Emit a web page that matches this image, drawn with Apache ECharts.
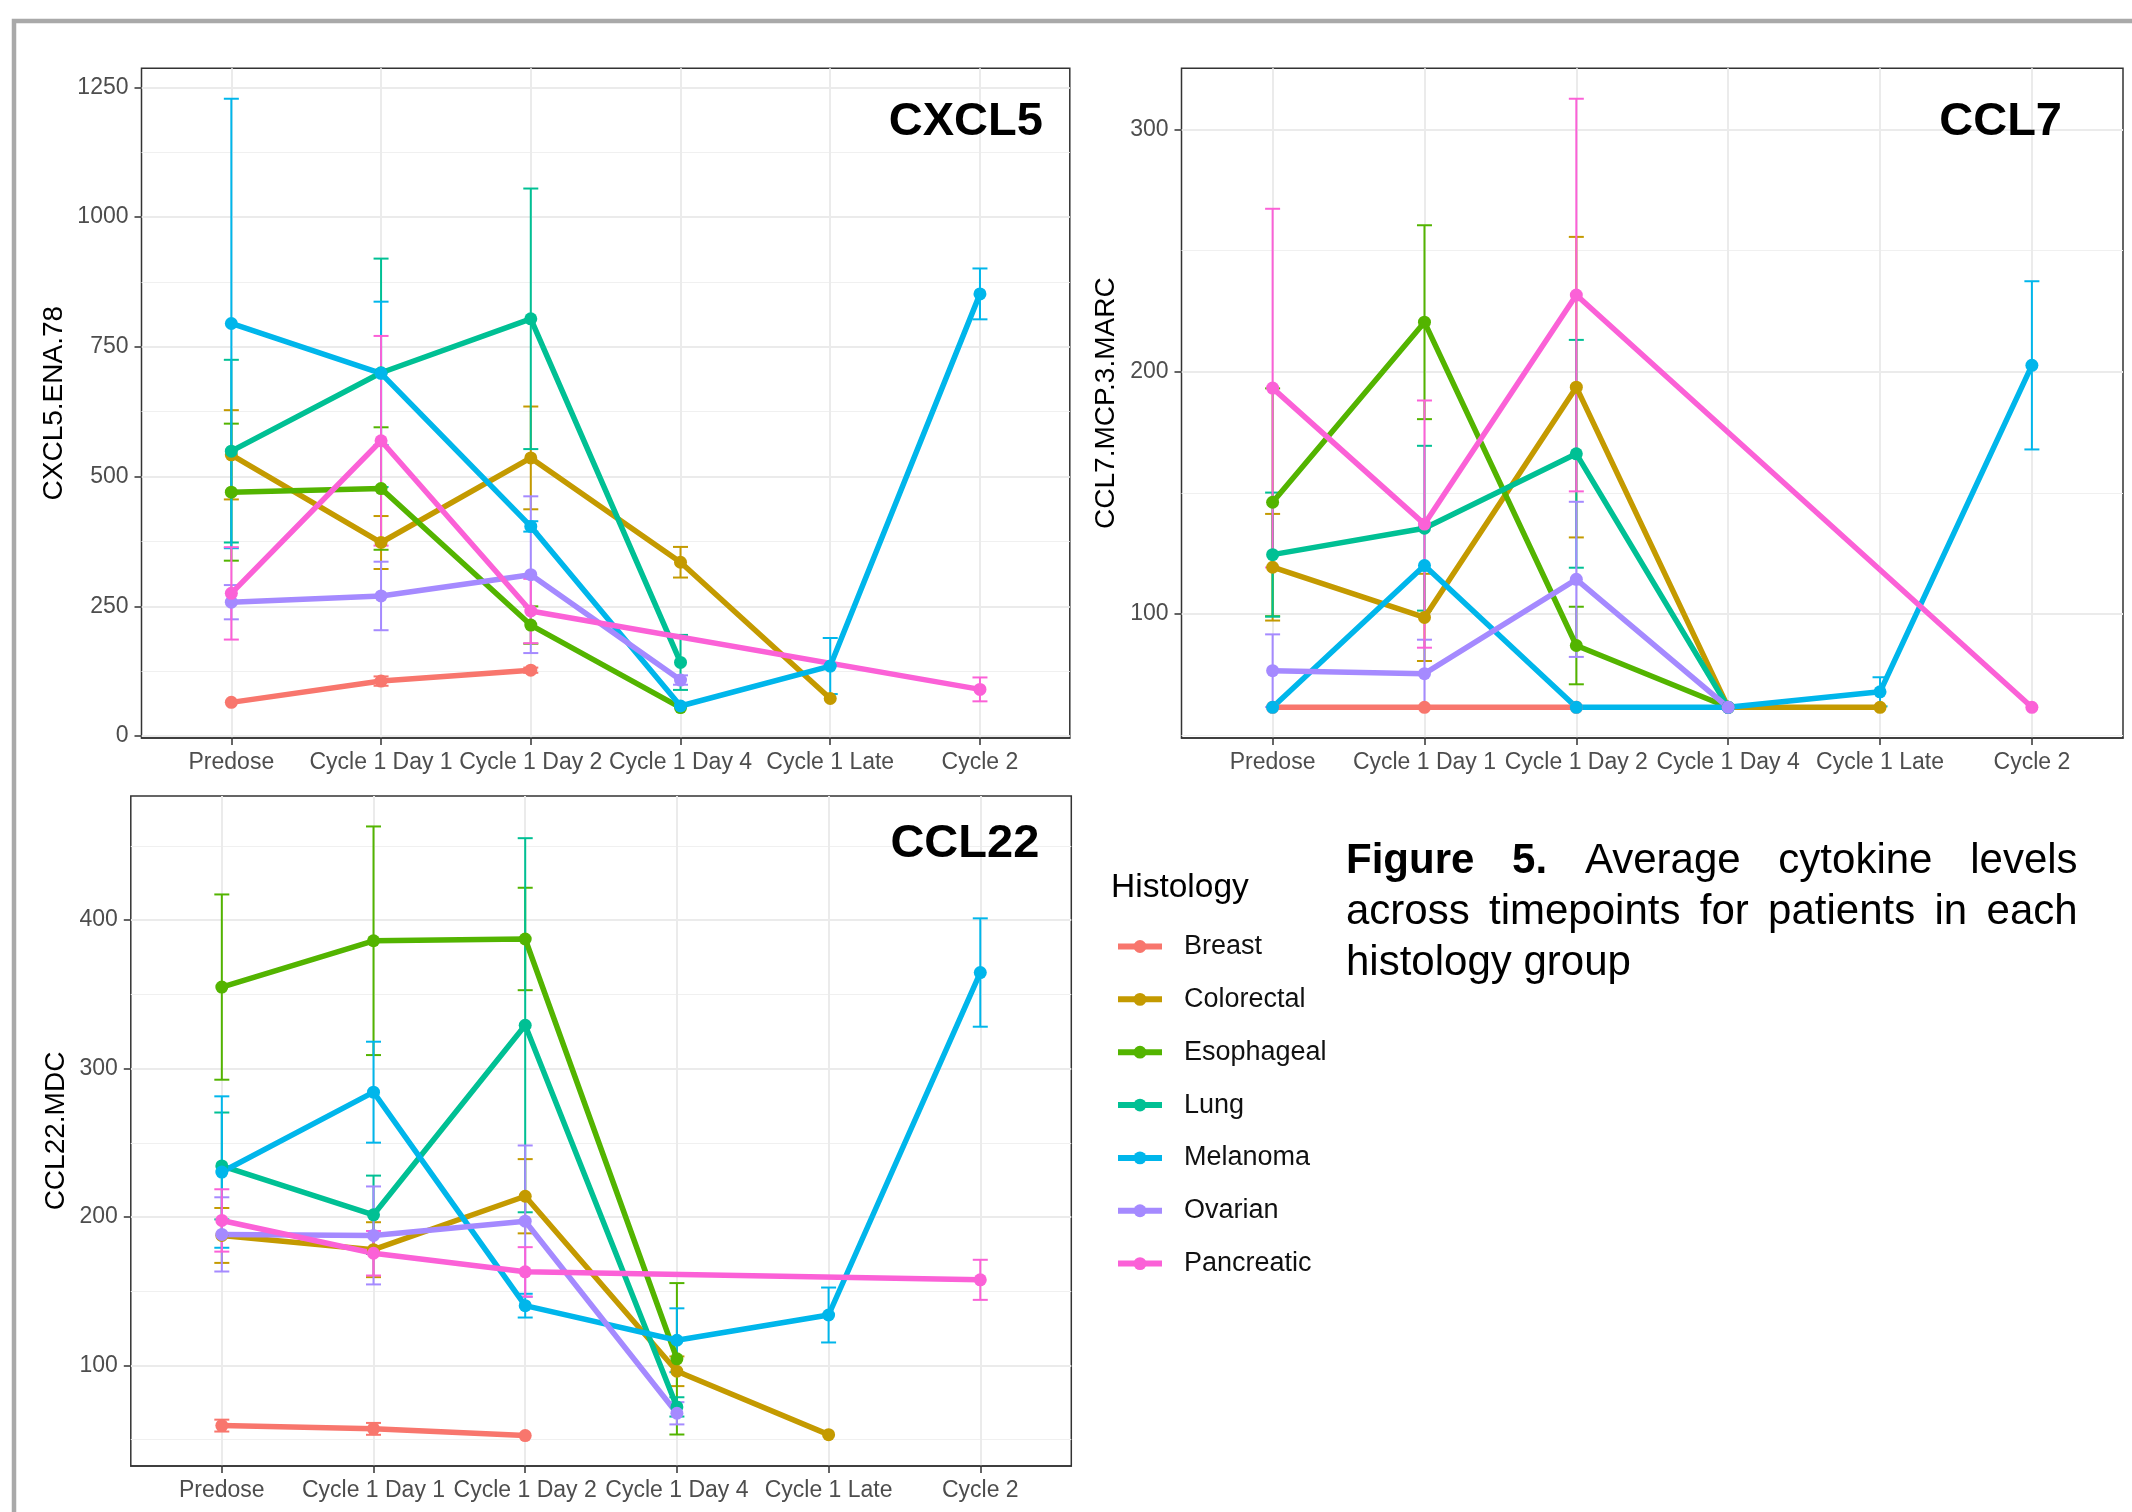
<!DOCTYPE html>
<html>
<head>
<meta charset="utf-8">
<script src="https://cdn.jsdelivr.net/npm/echarts@6.0.0/dist/echarts.min.js"></script>
<style>
html,body{margin:0;padding:0;background:#fff;}
#chart{width:2132px;height:1512px;}
</style>
</head>
<body>
<div id="chart"></div>
<script>
// ---------------- DATA ----------------
const categories = ['Predose', 'Cycle 1 Day 1', 'Cycle 1 Day 2', 'Cycle 1 Day 4', 'Cycle 1 Late', 'Cycle 2'];
const histology = ['Breast', 'Colorectal', 'Esophageal', 'Lung', 'Melanoma', 'Ovarian', 'Pancreatic'];
const colors = ['#F8766D', '#C49A00', '#53B400', '#00C094', '#00B6EB', '#A58AFF', '#FB61D7'];

// CXCL5 (rows follow histology order; columns follow categories)
const cxcl5Mean = [
  [65, 106, 127, null, null, null],
  [542, 373, 536, 335, 72.5, null],
  [470, 477, 214, 55, null, null],
  [549, 700, 804, 142, null, null],
  [795, 699, 404, 58, 135, 852],
  [258, 270, 311, 108, null, null],
  [275, 569, 241, null, null, 90]
];
const cxcl5Err = [
  [0, 9, 5, null, null, null],
  [86, 51, 99, 29.5, 0, null],
  [132, 118, 36, 0, null, null],
  [176, 220, 251, 53, null, null],
  [433, 138, 10, 0, 54, 49],
  [33, 66, 151, 9, null, null],
  [89, 202, 62, null, null, 23]
];
const cxcl5Ticks = [0, 250, 500, 750, 1000, 1250];
const cxcl5Minor = [125, 375, 625, 875, 1125];

// CCL7
const ccl7Mean = [
  [61.5, 61.5, 61.5, null, null, null],
  [119.3, 98.6, 193.6, 61.5, 61.5, null],
  [146.1, 220.4, 87, 61.5, null, null],
  [124.5, 135.4, 166.1, 61.5, null, null],
  [61.5, 120, 61.5, 61.5, 67.9, 202.6],
  [76.6, 75.4, 114.3, 61.5, null, null],
  [193.2, 137.1, 231.6, null, null, 61.5]
];
const ccl7Err = [
  [0, 0, 0, null, null, null],
  [22, 18, 62, 0, 0, null],
  [47, 40, 16, 0, null, null],
  [25.6, 34, 47, 0, null, null],
  [0, 0, 0, 0, 6, 34.7],
  [15, 14, 32, 0, null, null],
  [74, 51, 81, null, null, 0]
];
const ccl7Ticks = [100, 200, 300];
const ccl7Minor = [50, 150, 250];

// CCL22
const ccl22Mean = [
  [59.5, 57.3, 52.8, null, null, null],
  [187.6, 178, 214, 96.1, 53.4, null],
  [354.9, 386.1, 387.3, 104.5, null, null],
  [234.4, 201.5, 329.2, 72.1, null, null],
  [230.3, 284.1, 140.3, 117, 134, 364.7],
  [188.3, 187.6, 197.2, 67.8, null, null],
  [197.7, 175.6, 163.1, null, null, 157.7]
];
const ccl22Err = [
  [4, 4, 0, null, null, null],
  [18.5, 18.5, 25, 10, 0, null],
  [62.4, 77, 34.5, 51, null, null],
  [36, 26.4, 126, 6.5, null, null],
  [51, 34, 8, 21.5, 18.5, 36.5],
  [25, 33, 51, 7.5, null, null],
  [21, 15, 16.6, null, null, 13.5]
];
const ccl22Ticks = [100, 200, 300, 400];
const ccl22Minor = [50, 150, 250, 350, 450];

const legendTitle = 'Histology';
const captionBold = ['Figure', '5.'];
const captionLines = [
  ['Figure', '5.', 'Average', 'cytokine', 'levels'],
  ['across', 'timepoints', 'for', 'patients', 'in', 'each'],
  ['histology', 'group']
];

// ---------------- LAYOUT ----------------
const FONT = '"Liberation Sans", Arial, Helvetica, sans-serif';
const panels = [
  { title: 'CXCL5', yName: 'CXCL5.ENA.78', mean: cxcl5Mean, err: cxcl5Err, ticks: cxcl5Ticks, minor: cxcl5Minor,
    box: [141.5, 68.3, 928.3, 669.7], yTitleX: 54.5, titleInset: 27, titleDy: 54 },
  { title: 'CCL7', yName: 'CCL7.MCP.3.MARC', mean: ccl7Mean, err: ccl7Err, ticks: ccl7Ticks, minor: ccl7Minor,
    box: [1181.5, 68.3, 941.5, 669.7], yTitleX: 1106.5, titleInset: 61, titleDy: 54 },
  { title: 'CCL22', yName: 'CCL22.MDC', mean: ccl22Mean, err: ccl22Err, ticks: ccl22Ticks, minor: ccl22Minor,
    box: [130.8, 796, 940.5, 670], yTitleX: 56, titleInset: 32, titleDy: 48 }
];

function axisRange(mean, err) {
  let lo = Infinity, hi = -Infinity;
  mean.forEach((row, i) => row.forEach((v, j) => {
    if (v == null) return;
    const e = err[i][j] || 0;
    lo = Math.min(lo, v - e);
    hi = Math.max(hi, v + e);
  }));
  const pad = (hi - lo) * 0.05;
  return [lo - pad, hi + pad];
}

const catIdx = categories.map((c, i) => i);
const option = {
  animation: false,
  backgroundColor: '#ffffff',
  grid: [], xAxis: [], yAxis: [], series: [], graphic: [],
  legend: {
    data: histology,
    orient: 'vertical',
    left: 1115,
    top: 930.5,
    padding: 0,
    itemWidth: 44,
    itemHeight: 16,
    itemGap: 20.85,
    selectedMode: false,
    lineStyle: { width: 6 },
    textStyle: { fontSize: 27, color: '#111', fontFamily: FONT, lineHeight: 32, padding: [0, 0, 0, 17] }
  }
};

const lineSeries = [];
const errSeries = [];

panels.forEach((pn, p) => {
  const [lo, hi] = axisRange(pn.mean, pn.err);
  const [gl, gt, gw, gh] = pn.box;
  option.grid.push({ left: gl, top: gt, width: gw, height: gh, show: true,
    borderColor: '#333333', borderWidth: 1.5, backgroundColor: 'transparent' });
  option.xAxis.push({
    type: 'value', gridIndex: p, min: -0.6, max: 5.6, position: 'bottom',
    axisLine: { show: true, onZero: false, lineStyle: { color: '#333333', width: 1.5 } },
    axisTick: { show: true, length: 7, customValues: catIdx, lineStyle: { color: '#333333', width: 1.5 } },
    axisLabel: { customValues: catIdx, formatter: v => categories[Math.round(v)] || '', color: '#4d4d4d',
      fontSize: 23, fontFamily: FONT, margin: 13 },
    splitLine: { show: true, lineStyle: { color: '#ebebeb', width: 2 } }
  });
  option.yAxis.push({
    type: 'value', gridIndex: p, min: lo, max: hi, position: 'left',
    axisLine: { show: false, onZero: false },
    axisTick: { show: true, length: 7, customValues: pn.ticks, lineStyle: { color: '#333333', width: 1.5 } },
    axisLabel: { customValues: pn.ticks, formatter: v => String(v), color: '#4d4d4d', fontSize: 23,
      fontFamily: FONT, margin: 13 },
    splitLine: { show: true, lineStyle: { color: '#ebebeb', width: 2 } }
  });
  option.yAxis.push({
    type: 'value', gridIndex: p, min: lo, max: hi, position: 'right',
    axisLine: { show: false, onZero: false },
    axisTick: { show: false, customValues: pn.minor },
    axisLabel: { show: false },
    splitLine: { show: true, lineStyle: { color: '#f0f0f0', width: 1.2 } }
  });

  histology.forEach((h, i) => {
    const col = colors[i];
    const pts = [];
    const bars = [];
    pn.mean[i].forEach((v, j) => {
      if (v == null) return;
      pts.push([j, v]);
      const e = pn.err[i][j];
      if (e) bars.push([j, v - e, v + e]);
    });
    lineSeries.push({
      type: 'line', name: h, xAxisIndex: p, yAxisIndex: p * 2, data: pts,
      symbol: 'circle', symbolSize: 13, showSymbol: true, z: 3,
      lineStyle: { width: 5.5, color: col }, itemStyle: { color: col },
      emphasis: { disabled: true }, silent: true
    });
    errSeries.push({
      type: 'custom', name: h + ' error', xAxisIndex: p, yAxisIndex: p * 2, data: bars, z: 2, silent: true,
      encode: { x: 0, y: [1, 2] },
      renderItem: (params, api) => {
        const x = api.value(0);
        const a = api.coord([x, api.value(1)]);
        const b = api.coord([x, api.value(2)]);
        const hw = 7.5;
        const st = { stroke: col, lineWidth: 2 };
        return { type: 'group', children: [
          { type: 'line', shape: { x1: a[0], y1: a[1], x2: b[0], y2: b[1] }, style: st },
          { type: 'line', shape: { x1: a[0] - hw, y1: a[1], x2: a[0] + hw, y2: a[1] }, style: st },
          { type: 'line', shape: { x1: b[0] - hw, y1: b[1], x2: b[0] + hw, y2: b[1] }, style: st }
        ]};
      }
    });
  });

  // panel title
  option.graphic.push({ type: 'text', x: gl + gw - pn.titleInset, y: gt + pn.titleDy, z: 10,
    style: { text: pn.title, fontSize: 47, fontWeight: 'bold', fontFamily: FONT, fill: '#000',
      align: 'right', verticalAlign: 'middle' } });
  // y axis title
  option.graphic.push({ type: 'text', x: pn.yTitleX, y: gt + gh / 2, rotation: Math.PI / 2, z: 10,
    style: { text: pn.yName, fontSize: 28, fontFamily: FONT, fill: '#000',
      align: 'center', verticalAlign: 'middle' } });
});

option.series = lineSeries.concat(errSeries);

// outer frame
option.graphic.push({ type: 'rect', z: -1, shape: { x: 14, y: 21, width: 2200, height: 1600 },
  style: { fill: 'none', stroke: '#a9a9a9', lineWidth: 4.5 } });

// legend title
option.graphic.push({ type: 'text', x: 1111, y: 887.5,
  style: { text: legendTitle, fontSize: 33.5, fontFamily: FONT, fill: '#000', align: 'left', verticalAlign: 'middle' } });

// justified caption
const capFont = 42;
const capLeft = 1346, capRight = 2077.6;
const capY = [861, 912.5, 963];
const mctx = document.createElement('canvas').getContext('2d');
captionLines.forEach((words, li) => {
  const boldFlags = words.map((w, k) => li === 0 && k < captionBold.length);
  const widths = words.map((w, k) => {
    mctx.font = (boldFlags[k] ? 'bold ' : '') + capFont + 'px ' + FONT;
    return mctx.measureText(w).width;
  });
  const total = widths.reduce((a, b) => a + b, 0);
  const justify = li < captionLines.length - 1;
  const gap = justify ? (capRight - capLeft - total) / (words.length - 1) : capFont * 0.278;
  let x = capLeft;
  words.forEach((w, k) => {
    option.graphic.push({ type: 'text', x: x, y: capY[li],
      style: { text: w, fontSize: capFont, fontWeight: boldFlags[k] ? 'bold' : 'normal', fontFamily: FONT,
        fill: '#000', align: 'left', verticalAlign: 'middle' } });
    x += widths[k] + gap;
  });
});

const chart = echarts.init(document.getElementById('chart'), null, { renderer: 'canvas', width: 2132, height: 1512 });
chart.setOption(option);
</script>
</body>
</html>
